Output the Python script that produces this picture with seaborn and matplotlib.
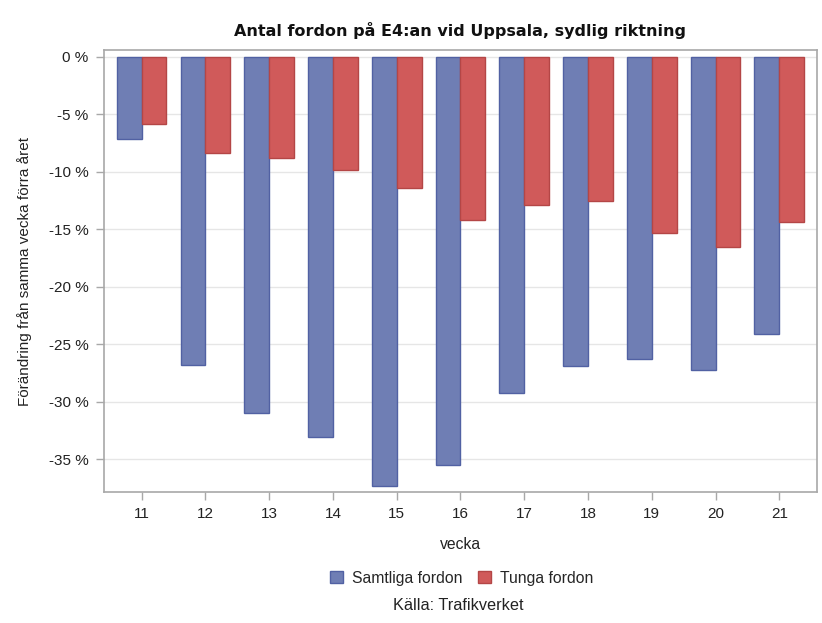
import matplotlib
matplotlib.use("Agg")
import matplotlib.pyplot as plt
import matplotlib.ticker as mticker
from matplotlib.patches import Patch
import seaborn as sns
import pandas as pd

weeks = ["11", "12", "13", "14", "15", "16", "17", "18", "19", "20", "21"]
samtliga = [-7.1, -26.8, -31.0, -33.1, -37.3, -35.5, -29.2, -26.9, -26.3, -27.2, -24.1]
tunga = [-5.8, -8.4, -8.8, -9.8, -11.4, -14.2, -12.85, -12.5, -15.3, -16.5, -14.4]
series = ["Samtliga fordon", "Tunga fordon"]
yticks = [0, -5, -10, -15, -20, -25, -30, -35]

df = pd.DataFrame({
    "vecka": weeks * 2,
    "value": samtliga + tunga,
    "serie": [series[0]] * len(weeks) + [series[1]] * len(weeks),
})

sns.set_theme(style="white")
plt.rcParams["font.family"] = ["Liberation Sans", "DejaVu Sans"]

fig = plt.figure(figsize=(8.22, 6.23), dpi=100)
ax = fig.add_axes([0.1265, 0.2103, 0.8674, 0.7094])

fill = {series[0]: "#6F7EB4", series[1]: "#D05A5A"}
edges = {series[0]: "#5161A3", series[1]: "#B44646"}

sns.barplot(data=df, x="vecka", y="value", hue="serie", order=weeks,
            hue_order=series, palette=fill, width=0.78, ax=ax,
            legend=False, linewidth=1.0, saturation=1)

for cont, s in zip(ax.containers, series):
    for p in cont:
        p.set_edgecolor(edges[s])

ax.set_xlim(-0.59, 10.59)
ax.set_ylim(-37.85, 0.6)
ax.set_yticks(yticks)
ax.yaxis.set_major_formatter(mticker.FuncFormatter(lambda v, p: f"{int(round(v))} %"))
ax.grid(axis="y", color="#E6E6E6", linewidth=1)
ax.set_axisbelow(True)

for sp in ax.spines.values():
    sp.set_color("#A8A8A8")
    sp.set_linewidth(1.2)

ax.tick_params(axis="both", which="major", length=6, width=1, color="#A8A8A8",
               labelsize=11, labelcolor="#222222", bottom=True, left=True, pad=5)

ax.set_xlabel("vecka", fontsize=11.3, color="#222222", labelpad=11)
ax.set_ylabel("Förändring från samma vecka förra året", fontsize=11,
              color="#222222", labelpad=12)
ax.set_title("Antal fordon på E4:an vid Uppsala, sydlig riktning",
             fontsize=11.5, fontweight="bold", color="#111111", pad=10,
             family=["DejaVu Sans"])

handles = [Patch(facecolor=fill[s], edgecolor=edges[s], label=s) for s in series]
fig.legend(handles=handles, loc="center", bbox_to_anchor=(0.562, 0.072), ncol=2,
           frameon=False, fontsize=11.3, handlelength=0.8, handleheight=0.8,
           handletextpad=0.6, columnspacing=1.0)

fig.text(0.557, 0.028, "Källa: Trafikverket", ha="center", va="center",
         fontsize=11.7, color="#222222")

fig.savefig("out.png", dpi=100)
